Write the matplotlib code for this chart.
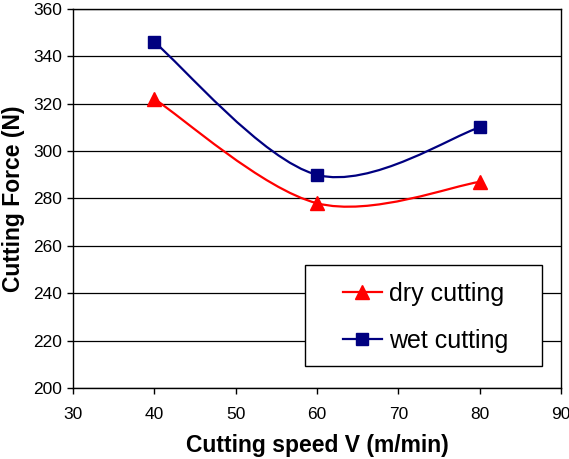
import numpy as np
import matplotlib
matplotlib.use('Agg')
import matplotlib.pyplot as plt
from matplotlib.path import Path
from matplotlib.patches import PathPatch, Rectangle
from matplotlib.lines import Line2D

plt.rcParams['font.family'] = ['Liberation Sans', 'DejaVu Sans']

speed = [40, 60, 80]
dry_force = [322, 278, 287]
wet_force = [346, 290, 310]

def smooth_path(xs, ys):
    # Excel-style smoothed line: cubic bezier segments through the points
    p = np.column_stack([xs, ys]).astype(float)
    verts = [p[0]]
    codes = [Path.MOVETO]
    n = len(p)
    for i in range(n - 1):
        prev = p[i - 1] if i > 0 else p[i]
        nxt = p[i + 2] if i + 2 < n else p[i + 1]
        c1 = p[i] + (p[i + 1] - prev) / 6
        c2 = p[i + 1] - (nxt - p[i]) / 6
        verts += [c1, c2, p[i + 1]]
        codes += [Path.CURVE4] * 3
    return Path(verts, codes)

fig = plt.figure(figsize=(5.69, 4.59), dpi=100)
ax = fig.add_axes([0.1283, 0.1547, 0.8577, 0.8257])

for ys, col, mk, ms in [(dry_force, '#ff0000', '^', 10), (wet_force, '#000080', 's', 8)]:
    ax.add_patch(PathPatch(smooth_path(speed, ys), fill=False, edgecolor=col, lw=1.6, zorder=3))
    ax.plot(speed, ys, linestyle='none', marker=mk, color=col, markersize=ms, zorder=4)

ax.set_xlim(30, 90)
ax.set_ylim(200, 360)
ax.set_xticks(range(30, 91, 10))
ax.set_yticks(range(200, 361, 20))
ax.yaxis.grid(True, color='black', lw=0.9)
ax.set_axisbelow(True)
ax.tick_params(direction='out', length=4, labelsize=12.5, width=1)
ax.tick_params(axis='x', pad=10)
ax.tick_params(axis='y', pad=4)
for s in ax.spines.values():
    s.set_linewidth(1)

ax.set_xlabel('Cutting speed V (m/min)', fontsize=16.5, fontweight='bold', labelpad=8)
ax.set_ylabel('Cutting Force (N)', fontsize=16.5, fontweight='bold', labelpad=6)

# legend frame drawn as its own box, entries placed inside
ax.add_patch(Rectangle((0.475, 0.058), 0.486, 0.2665, transform=ax.transAxes,
                       facecolor='white', edgecolor='black', lw=1, zorder=5))
handles = [Line2D([], [], color='#ff0000', marker='^', markersize=10, lw=1.6),
           Line2D([], [], color='#000080', marker='s', markersize=8, lw=1.6)]
leg = ax.legend(handles, ['dry cutting', 'wet cutting'], loc='center left',
                bbox_to_anchor=(0.553, 0.186), fontsize=18, frameon=False,
                borderpad=0, borderaxespad=0, labelspacing=0.9,
                handlelength=1.56, handletextpad=0.3)
leg.set_zorder(6)

fig.savefig('out.png', dpi=100)
